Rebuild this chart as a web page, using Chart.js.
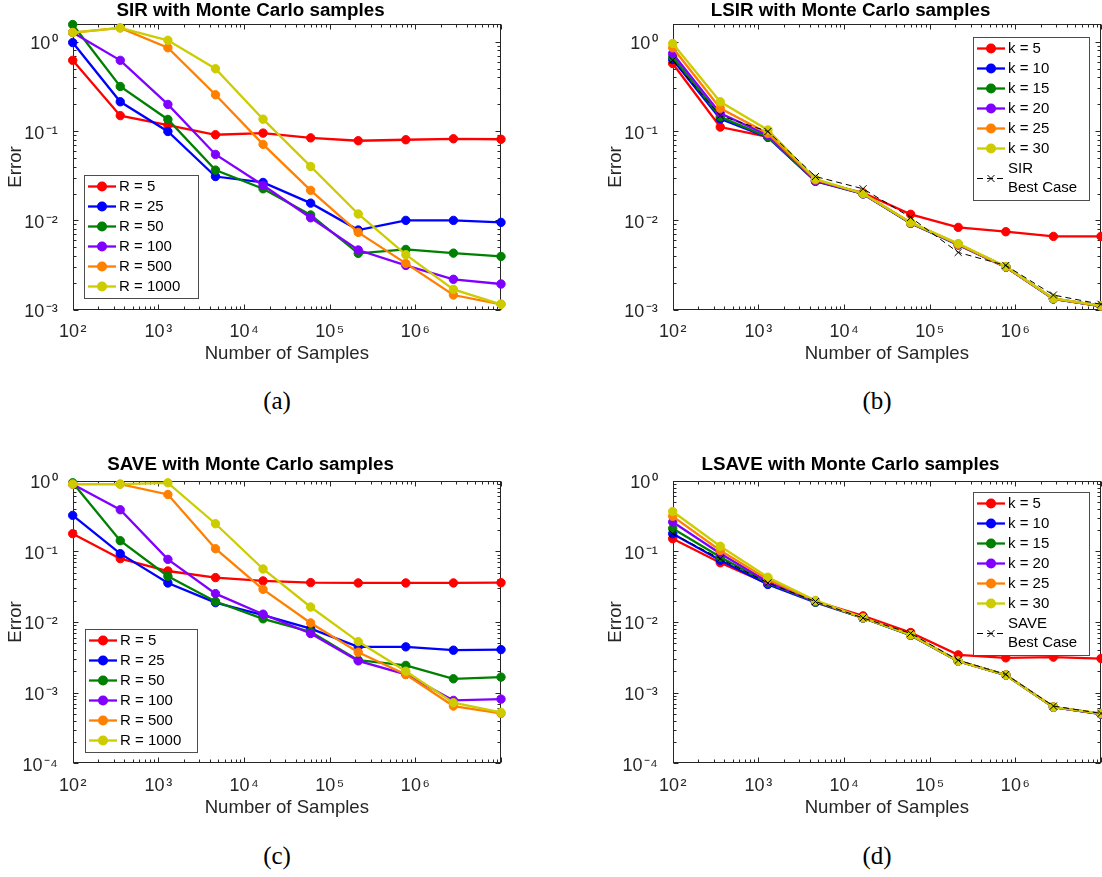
<!DOCTYPE html>
<html>
<head>
<meta charset="utf-8">
<script src="https://cdn.jsdelivr.net/npm/chart.js@4.4.1/dist/chart.umd.min.js"></script>
<style>
  html, body { margin: 0; padding: 0; background: #fff; overflow: hidden; }
  #page { position: relative; width: 1102px; height: 877px; overflow: hidden; background: #fff; }
  canvas { position: absolute; }
  .cap { position: absolute; width: 100px; text-align: center; line-height: 30px;
         font-family: "Liberation Serif", "DejaVu Serif", serif; font-size: 25px; color: #000; }
</style>
</head>
<body>
<div id="page">
  <canvas id="chartA" width="518" height="380" style="left:0;top:0"></canvas>
  <canvas id="chartB" width="518" height="380" style="left:600px;top:0"></canvas>
  <canvas id="chartC" width="518" height="380" style="left:0;top:440px"></canvas>
  <canvas id="chartD" width="518" height="380" style="left:600px;top:440px"></canvas>
  <div class="cap" style="left:227px;top:386px">(a)</div>
  <div class="cap" style="left:827px;top:386px">(b)</div>
  <div class="cap" style="left:227px;top:841px">(c)</div>
  <div class="cap" style="left:827px;top:841px">(d)</div>
</div>
<script>
// number of Monte Carlo samples (x axis)
const samples = [100, 359, 1292, 4642, 16681, 59948, 215443, 774264, 2782559, 10000000];

// (a) SIR
const sirR5    = [0.62, 0.149, 0.117, 0.091, 0.095, 0.084, 0.078, 0.080, 0.082, 0.081];
const sirR25   = [0.98, 0.213, 0.099, 0.031, 0.0266, 0.0156, 0.0078, 0.0100, 0.0100, 0.0095];
const sirR50   = [1.56, 0.316, 0.135, 0.0366, 0.0226, 0.0115, 0.00427, 0.00473, 0.0043, 0.00395];
const sirR100  = [1.27, 0.62, 0.199, 0.0548, 0.0247, 0.0107, 0.00466, 0.00313, 0.00219, 0.00194];
const sirR500  = [1.27, 1.43, 0.857, 0.255, 0.071, 0.0217, 0.00734, 0.0033, 0.00146, 0.00115];
const sirR1000 = [1.27, 1.43, 1.04, 0.499, 0.136, 0.0402, 0.0118, 0.00413, 0.00169, 0.00115];

// (b) LSIR
const lsirK5  = [0.572, 0.111, 0.0864, 0.0275, 0.0204, 0.0117, 0.00835, 0.00747, 0.00662, 0.00662];
const lsirK10 = [0.634, 0.137, 0.085, 0.0275, 0.0198, 0.0093, 0.0053, 0.0030, 0.00132, 0.00110];
const lsirK15 = [0.679, 0.145, 0.086, 0.0278, 0.0199, 0.0093, 0.0054, 0.0030, 0.00132, 0.00110];
const lsirK20 = [0.74, 0.158, 0.090, 0.0280, 0.0199, 0.0094, 0.0054, 0.0030, 0.00133, 0.00110];
const lsirK25 = [0.857, 0.180, 0.094, 0.0285, 0.0200, 0.0094, 0.0054, 0.0030, 0.00133, 0.00110];
const lsirK30 = [0.958, 0.213, 0.103, 0.0290, 0.0200, 0.0095, 0.0055, 0.00305, 0.00134, 0.00111];
const sirBest = [0.62, 0.149, 0.099, 0.031, 0.0226, 0.0108, 0.00438, 0.00313, 0.00146, 0.00115];

// (c) SAVE
const saveR5    = [0.178, 0.0788, 0.0527, 0.0425, 0.0381, 0.0361, 0.0357, 0.0357, 0.0357, 0.036];
const saveR25   = [0.323, 0.0927, 0.0357, 0.0188, 0.0125, 0.00807, 0.00445, 0.00445, 0.00399, 0.00407];
const saveR50   = [0.934, 0.1415, 0.0444, 0.0195, 0.0111, 0.00724, 0.00288, 0.00243, 0.00157, 0.00166];
const saveR100  = [0.894, 0.388, 0.077, 0.0252, 0.0129, 0.00687, 0.00282, 0.00181, 0.000777, 0.00081];
const saveR500  = [0.894, 0.894, 0.638, 0.109, 0.029, 0.0097, 0.00374, 0.00181, 0.000646, 0.000508];
const saveR1000 = [0.894, 0.894, 0.934, 0.246, 0.0563, 0.0163, 0.00528, 0.00201, 0.00072, 0.000525];

// (d) LSAVE
const lsaveK5  = [0.151, 0.069, 0.0349, 0.0196, 0.0122, 0.0071, 0.00343, 0.00311, 0.00318, 0.00304];
const lsaveK10 = [0.178, 0.075, 0.034, 0.0190, 0.0114, 0.0065, 0.00279, 0.00177, 0.000622, 0.000497];
const lsaveK15 = [0.211, 0.083, 0.0357, 0.0192, 0.0114, 0.0065, 0.0028, 0.00177, 0.000624, 0.0005];
const lsaveK20 = [0.26, 0.093, 0.037, 0.0195, 0.0115, 0.0066, 0.0028, 0.00178, 0.000625, 0.0005];
const lsaveK25 = [0.313, 0.103, 0.040, 0.0198, 0.0115, 0.0066, 0.0028, 0.00178, 0.000626, 0.000505];
const lsaveK30 = [0.367, 0.118, 0.043, 0.0202, 0.0115, 0.0066, 0.0028, 0.00178, 0.000626, 0.000508];
const saveBest = [0.178, 0.0788, 0.0357, 0.0195, 0.0114, 0.0069, 0.00288, 0.00181, 0.000646, 0.000508];

const rLabels = ['R = 5', 'R = 25', 'R = 50', 'R = 100', 'R = 500', 'R = 1000'];
const kLabels = ['k = 5', 'k = 10', 'k = 15', 'k = 20', 'k = 25', 'k = 30'];

const xTickValues = [1e2, 1e3, 1e4, 1e5, 1e6];
const xTickLabels = ['10\u200a²', '10\u200a³', '10\u200a⁴', '10\u200a⁵', '10\u200a⁶'];
const yTickValues = [1e-4, 1e-3, 1e-2, 1e-1, 1e0];
const yTickLabels = ['10\u200a⁻⁴', '10\u200a⁻³', '10\u200a⁻²', '10\u200a⁻¹', '10\u200a⁰'];

const colors = ['#ff0000', '#0000ff', '#008000', '#8000ff', '#ff8000', '#cccc00'];
const FONT = "'Liberation Sans', Arial, sans-serif";
const INK = '#262626';

function sameValue(a, b) {
    return Math.abs(Math.log10(a) - Math.log10(b)) < 1e-9;
}

function labelFor(v, values, labels) {
    const i = values.findIndex(t => sameValue(t, v));
    return i < 0 ? '' : labels[i];
}

// 1..9 x 10^n ticks, labels only on the decades
function logTicks(min, max) {
    const ticks = [];
    for (let e = Math.floor(Math.log10(min)); e <= Math.ceil(Math.log10(max)); e++) {
        for (let m = 1; m <= 9; m++) {
            const v = m * Math.pow(10, e);
            if (v >= min * 0.999 && v <= max * 1.001) ticks.push({ value: v, major: m === 1 });
        }
    }
    return ticks;
}

// box and inward tick marks, drawn under the data like MATLAB
const frame = {
    id: 'frame',
    beforeDatasetsDraw(chart) {
        const { ctx, chartArea: a, scales: { x, y } } = chart;
        const L = Math.round(a.left) + 0.5, R = Math.round(a.right) - 0.5;
        const T = Math.round(a.top) + 0.5, B = Math.round(a.bottom) - 0.5;
        ctx.save();
        ctx.strokeStyle = INK;
        ctx.lineWidth = 1;
        ctx.beginPath();
        x.ticks.forEach(t => {
            const px = Math.round(x.getPixelForValue(t.value)) + 0.5;
            const len = t.major ? 5 : 3;
            ctx.moveTo(px, B); ctx.lineTo(px, B - len);
            ctx.moveTo(px, T); ctx.lineTo(px, T + len);
        });
        y.ticks.forEach(t => {
            const py = Math.round(y.getPixelForValue(t.value)) + 0.5;
            const len = t.major ? 5 : 3;
            ctx.moveTo(L, py); ctx.lineTo(L + len, py);
            ctx.moveTo(R, py); ctx.lineTo(R - len, py);
        });
        ctx.stroke();
        ctx.strokeRect(L, T, R - L, B - T);
        ctx.restore();
    }
};

// legend box inside the axes
const boxLegend = {
    id: 'boxLegend',
    afterDraw(chart, args, opts) {
        const { ctx, chartArea: a } = chart;
        const sets = chart.data.datasets;
        const nLines = sets.reduce((n, d) => n + d.label.split('\n').length, 0);
        const h = nLines * 20 + 3;
        const w = opts.width;
        const left = Math.round(opts.corner === 'tr' ? a.right - opts.dx - w : a.left + opts.dx);
        const top = Math.round(opts.corner === 'tr' ? a.top + opts.dy : a.bottom - opts.dy - h);
        ctx.save();
        ctx.fillStyle = '#fff';
        ctx.fillRect(left, top, w, h);
        ctx.strokeStyle = '#4d4d4d';
        ctx.lineWidth = 1;
        ctx.strokeRect(left + 0.5, top + 0.5, w, h);
        ctx.font = '15px ' + FONT;
        ctx.textBaseline = 'middle';
        let yy = top + 1.5;
        sets.forEach(d => {
            const parts = d.label.split('\n');
            const cy = yy + parts.length * 10;
            const mx = left + 18;
            ctx.strokeStyle = d.borderColor;
            ctx.lineWidth = d.borderWidth;
            ctx.setLineDash(d.borderDash || []);
            ctx.beginPath();
            ctx.moveTo(left + 4, cy);
            ctx.lineTo(left + 32, cy);
            ctx.stroke();
            ctx.setLineDash([]);
            if (d.pointStyle === 'crossRot') {
                const r = d.pointRadius * 0.7;
                ctx.lineWidth = 1;
                ctx.beginPath();
                ctx.moveTo(mx - r, cy - r); ctx.lineTo(mx + r, cy + r);
                ctx.moveTo(mx - r, cy + r); ctx.lineTo(mx + r, cy - r);
                ctx.stroke();
            } else {
                ctx.fillStyle = d.backgroundColor;
                ctx.beginPath();
                ctx.arc(mx, cy, 5, 0, Math.PI * 2);
                ctx.fill();
            }
            ctx.fillStyle = '#000';
            parts.forEach((p, k) => ctx.fillText(p, left + 35, yy + 10 + k * 19.5));
            yy += parts.length * 20;
        });
        ctx.restore();
    }
};

function makeDatasets(series, labels, best, bestLabel) {
    const sets = series.map((vals, i) => ({
        label: labels[i],
        data: vals.map((v, j) => ({ x: samples[j], y: v })),
        borderColor: colors[i],
        backgroundColor: colors[i],
        borderWidth: 2.3,
        pointRadius: 4.2,
        pointHoverRadius: 4.2,
        pointBorderWidth: 1,
        tension: 0,
        clip: false,
        order: -i
    }));
    if (best) {
        sets.push({
            label: bestLabel,
            data: best.map((v, j) => ({ x: samples[j], y: v })),
            borderColor: '#000',
            backgroundColor: '#000',
            borderWidth: 1,
            borderDash: [6, 4],
            pointStyle: 'crossRot',
            pointRadius: 5,
            pointHoverRadius: 5,
            pointBorderWidth: 1,
            tension: 0,
            clip: false,
            order: -10
        });
    }
    return sets;
}

function makeChart(id, title, datasets, panel) {
    const top = panel.row === 0;
    const ctx = document.getElementById(id).getContext('2d');
    return new Chart(ctx, {
        type: 'line',
        data: { datasets: datasets },
        plugins: [frame, boxLegend],
        options: {
            responsive: false,
            animation: false,
            events: [],
            layout: { padding: { left: 0, right: 17, top: 0, bottom: 0 } },
            plugins: {
                legend: { display: false },
                tooltip: { enabled: false },
                title: {
                    display: true,
                    text: title,
                    color: '#000',
                    font: { family: FONT, size: 18.8, weight: 'bold' },
                    padding: top ? { top: 0, bottom: 1.74 } : { top: 13.2, bottom: 4.94 }
                },
                boxLegend: panel.legend
            },
            scales: {
                x: {
                    type: 'logarithmic',
                    min: 100,
                    max: 1e7,
                    grid: { display: false },
                    border: { display: false },
                    afterBuildTicks: s => { s.ticks = logTicks(s.min, s.max); },
                    afterFit: s => { s.height = top ? 70.3 : 56.7; },
                    ticks: {
                        autoSkip: false,
                        maxRotation: 0,
                        minRotation: 0,
                        padding: 4,
                        color: INK,
                        font: { family: FONT, size: 18 },
                        callback: v => labelFor(v, xTickValues, xTickLabels)
                    },
                    title: {
                        display: true,
                        text: 'Number of Samples',
                        color: INK,
                        font: { family: FONT, size: 18.6 },
                        padding: { top: 0, bottom: top ? 14.8 : 1.2 }
                    }
                },
                y: {
                    type: 'logarithmic',
                    min: panel.yMin,
                    max: panel.yMax,
                    grid: { display: false },
                    border: { display: false },
                    afterBuildTicks: s => { s.ticks = logTicks(s.min, s.max); },
                    afterFit: s => { s.width = 72.7; },
                    ticks: {
                        autoSkip: false,
                        padding: 7,
                        labelOffset: 2.5,
                        color: INK,
                        font: { family: FONT, size: 18 },
                        callback: v => labelFor(v, yTickValues, yTickLabels)
                    },
                    title: {
                        display: true,
                        text: 'Error',
                        color: INK,
                        font: { family: FONT, size: 18.6 },
                        padding: { top: 4.3, bottom: 0 }
                    }
                }
            }
        }
    });
}

makeChart('chartA', 'SIR with Monte Carlo samples',
    makeDatasets([sirR5, sirR25, sirR50, sirR100, sirR500, sirR1000], rLabels),
    { row: 0, yMin: 1e-3, yMax: 1.57, legend: { corner: 'bl', dx: 11.6, dy: 12, width: 114 } });

makeChart('chartB', 'LSIR with Monte Carlo samples',
    makeDatasets([lsirK5, lsirK10, lsirK15, lsirK20, lsirK25, lsirK30], kLabels, sirBest, 'SIR\nBest Case'),
    { row: 0, yMin: 1e-3, yMax: 1.57, legend: { corner: 'tr', dx: 11.7, dy: 12.5, width: 116 } });

makeChart('chartC', 'SAVE with Monte Carlo samples',
    makeDatasets([saveR5, saveR25, saveR50, saveR100, saveR500, saveR1000], rLabels),
    { row: 1, yMin: 1e-4, yMax: 1, legend: { corner: 'bl', dx: 12.3, dy: 11, width: 112 } });

makeChart('chartD', 'LSAVE with Monte Carlo samples',
    makeDatasets([lsaveK5, lsaveK10, lsaveK15, lsaveK20, lsaveK25, lsaveK30], kLabels, saveBest, 'SAVE\nBest Case'),
    { row: 1, yMin: 1e-4, yMax: 1, legend: { corner: 'tr', dx: 11.7, dy: 11, width: 116 } });
</script>
</body>
</html>
